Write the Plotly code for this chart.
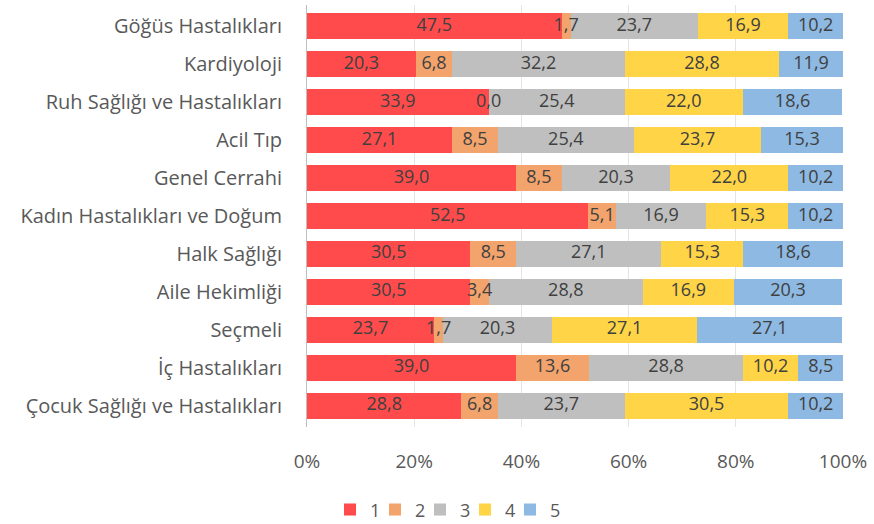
import plotly.graph_objects as go

categories = ["Göğüs Hastalıkları", "Kardiyoloji", "Ruh Sağlığı ve Hastalıkları", "Acil Tıp",
              "Genel Cerrahi", "Kadın Hastalıkları ve Doğum", "Halk Sağlığı", "Aile Hekimliği",
              "Seçmeli", "İç Hastalıkları", "Çocuk Sağlığı ve Hastalıkları"]
s1 = [47.5, 20.3, 33.9, 27.1, 39.0, 52.5, 30.5, 30.5, 23.7, 39.0, 28.8]
s2 = [1.7, 6.8, 0.0, 8.5, 8.5, 5.1, 8.5, 3.4, 1.7, 13.6, 6.8]
s3 = [23.7, 32.2, 25.4, 25.4, 20.3, 16.9, 27.1, 28.8, 20.3, 28.8, 23.7]
s4 = [16.9, 28.8, 22.0, 23.7, 22.0, 15.3, 15.3, 16.9, 27.1, 10.2, 30.5]
s5 = [10.2, 11.9, 18.6, 15.3, 10.2, 10.2, 18.6, 20.3, 27.1, 8.5, 10.2]
series_names = ["1", "2", "3", "4", "5"]
tick_vals = [0, 20, 40, 60, 80, 100]
tick_text = ["0%", "20%", "40%", "60%", "80%", "100%"]

colors = ["#FF4B4B", "#F2A46C", "#BFBFBF", "#FFD447", "#8DB9E3"]
font_family = "'Open Sans', sans-serif"

fig = go.Figure()
all_series = [s1, s2, s3, s4, s5]
legend_ids = ["legend", "legend2", "legend3", "legend4", "legend5"]
for name, vals, col, lg in zip(series_names, all_series, colors, legend_ids):
    fig.add_trace(go.Bar(
        y=categories, x=vals, name=name, orientation="h",
        marker=dict(color=col, line=dict(width=0)),
        hoverinfo="skip", legend=lg,
    ))

# data labels at segment midpoints (computed from the data)
base = [0.0] * len(categories)
for vals in all_series:
    mids = [b + v / 2 for b, v in zip(base, vals)]
    fig.add_trace(go.Scatter(
        y=categories, x=mids, mode="text",
        text=[f"{v:.1f}".replace(".", ",") for v in vals],
        textposition="middle center",
        textfont=dict(size=18, color="#404040", family=font_family),
        showlegend=False, hoverinfo="skip", cliponaxis=False,
    ))
    base = [b + v for b, v in zip(base, vals)]

legend_style = dict(orientation="h", xanchor="left", xref="container",
                    y=0.027, yanchor="middle", yref="container",
                    font=dict(size=18, color="#595959"), itemwidth=30,
                    bgcolor="rgba(0,0,0,0)")
legends = {}
for i, lg in enumerate(legend_ids):
    legends[lg] = dict(legend_style, x=(330 + 45 * i) / 874)

fig.update_layout(
    barmode="stack", bargap=0.3,
    width=874, height=524,
    margin=dict(l=307, r=31, t=5, b=97),
    plot_bgcolor="white", paper_bgcolor="white",
    font=dict(family=font_family, color="#595959", size=17),
    showlegend=True,
    **legends,
)
fig.update_xaxes(range=[0, 100], tickvals=tick_vals, ticktext=tick_text,
                 showgrid=True, gridcolor="#E4E4E4", gridwidth=1, zeroline=False,
                 tickfont=dict(size=19, color="#595959"), ticklabelstandoff=21,
                 fixedrange=True)
fig.update_yaxes(autorange="reversed", showline=True, linecolor="#BFBFBF", linewidth=1,
                 tickfont=dict(size=20, color="#595959"), ticklabelstandoff=20,
                 ticks="", fixedrange=True)

fig.write_html("out.html", config={"displayModeBar": False},
               post_script="document.body.style.margin='0px';")
